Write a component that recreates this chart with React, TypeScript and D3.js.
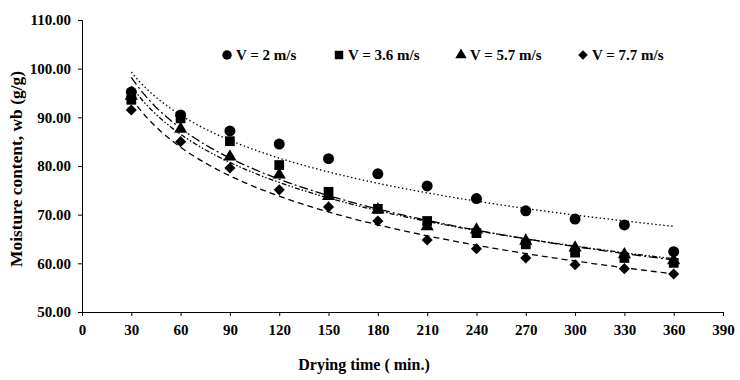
import { useEffect, useRef } from 'react'
import * as d3 from 'd3'

const times = [30, 60, 90, 120, 150, 180, 210, 240, 270, 300, 330, 360]
const v2 = [95.2, 90.5, 87.2, 84.5, 81.5, 78.4, 75.9, 73.3, 70.8, 69.1, 67.9, 62.4]
const v36 = [93.6, 89.8, 85.1, 80.2, 74.7, 71.2, 68.7, 66.2, 63.9, 62.2, 61.1, 60.1]
const v57 = [94.4, 87.6, 81.9, 78.2, 73.8, 71.0, 67.6, 66.9, 64.6, 63.2, 61.8, 60.6]
const v77 = [91.5, 85.0, 79.6, 75.1, 71.6, 68.7, 64.8, 63.0, 61.1, 59.7, 58.9, 57.8]
const xTicks = [0, 30, 60, 90, 120, 150, 180, 210, 240, 270, 300, 330, 360, 390]
const yTicks = [50, 60, 70, 80, 90, 100, 110]

const series = [
  { name: 'V = 2 m/s', values: v2, symbol: d3.symbolCircle, size: 95, rot: 0, dash: '1.5,2.5', lx: 227 },
  { name: 'V = 3.6 m/s', values: v36, symbol: d3.symbolSquare, size: 95, rot: 0, dash: '9,3,2,3', lx: 339 },
  { name: 'V = 5.7 m/s', values: v57, symbol: d3.symbolTriangle, size: 75, rot: 0, dash: '5,2,1.5,2,1.5,2', lx: 461 },
  { name: 'V = 7.7 m/s', values: v77, symbol: d3.symbolSquare, size: 62, rot: 45, dash: '6,4', lx: 583 },
]

// least squares fit y = a*ln(x) + b (excel style log trendline)
function logFit(xs: number[], ys: number[]) {
  const lx = xs.map((x) => Math.log(x))
  const mx = d3.mean(lx) as number
  const my = d3.mean(ys) as number
  let num = 0
  let den = 0
  lx.forEach((l, i) => {
    num += (l - mx) * (ys[i] - my)
    den += (l - mx) * (l - mx)
  })
  const a = num / den
  return (x: number) => a * Math.log(x) + (my - a * mx)
}

export default function App() {
  const svgRef = useRef<SVGSVGElement>(null)

  useEffect(() => {
    document.body.style.margin = '0'
    const W = 740
    const H = 380
    const margin = { top: 20, right: 17, bottom: 68, left: 82 }
    const innerW = W - margin.left - margin.right
    const innerH = H - margin.top - margin.bottom
    const font = '"Liberation Serif", "Times New Roman", serif'

    const x = d3.scaleLinear().domain([0, 390]).range([0, innerW])
    const y = d3.scaleLinear().domain([50, 110]).range([innerH, 0])

    const svg = d3.select(svgRef.current)
    svg.selectAll('*').remove()
    svg.attr('width', W).attr('height', H).style('font-family', font).style('display', 'block')

    const g = svg.append('g').attr('transform', `translate(${margin.left},${margin.top})`)

    g.append('g')
      .attr('transform', `translate(0,${innerH})`)
      .call(d3.axisBottom(x).tickValues(xTicks).tickSize(4).tickPadding(8).tickFormat(d3.format('d')))
      .call((ax) => ax.select('.domain').attr('stroke', '#000'))
      .call((ax) => ax.selectAll('.tick line').attr('stroke', '#000'))
      .call((ax) => ax.selectAll('text').attr('fill', '#000').attr('font-size', 15).attr('font-weight', 'bold').attr('font-family', font))

    g.append('g')
      .call(d3.axisLeft(y).tickValues(yTicks).tickSize(4).tickPadding(7).tickFormat((d) => (d as number).toFixed(2)))
      .call((ax) => ax.select('.domain').attr('stroke', '#000'))
      .call((ax) => ax.selectAll('.tick line').attr('stroke', '#000'))
      .call((ax) => ax.selectAll('text').attr('fill', '#000').attr('font-size', 15).attr('font-weight', 'bold').attr('font-family', font))

    svg.append('text')
      .attr('x', 364).attr('y', 370)
      .attr('text-anchor', 'middle').attr('font-size', 16).attr('font-weight', 'bold')
      .text('Drying time ( min.)')

    svg.append('text')
      .attr('transform', 'translate(22,169) rotate(-90)')
      .attr('text-anchor', 'middle').attr('font-size', 16).attr('font-weight', 'bold')
      .attr('textLength', 196).attr('lengthAdjust', 'spacingAndGlyphs')
      .text('Moisture content, wb (g/g)')

    const line = d3.line<number[]>().x((d) => x(d[0])).y((d) => y(d[1]))

    series.forEach((s) => {
      const f = logFit(times, s.values)
      const pts = d3.range(30, 361, 3).map((t) => [t, f(t)])
      g.append('path')
        .attr('d', line(pts))
        .attr('fill', 'none').attr('stroke', '#000').attr('stroke-width', 1.3)
        .attr('stroke-dasharray', s.dash)
    })

    series.forEach((s) => {
      const sym = d3.symbol().type(s.symbol).size(s.size)
      g.append('g').selectAll('path')
        .data(s.values)
        .join('path')
        .attr('transform', (d, i) => `translate(${x(times[i])},${y(d)}) rotate(${s.rot})`)
        .attr('d', sym)
        .attr('fill', '#000')
    })

    series.forEach((s) => {
      svg.append('path')
        .attr('transform', `translate(${s.lx},55) rotate(${s.rot})`)
        .attr('d', d3.symbol().type(s.symbol).size(s.size * 0.75)())
        .attr('fill', '#000')
      svg.append('text')
        .attr('x', s.lx + 9).attr('y', 60)
        .attr('font-size', 15).attr('font-weight', 'bold')
        .text(s.name)
    })
  }, [])

  return <svg ref={svgRef} />
}
